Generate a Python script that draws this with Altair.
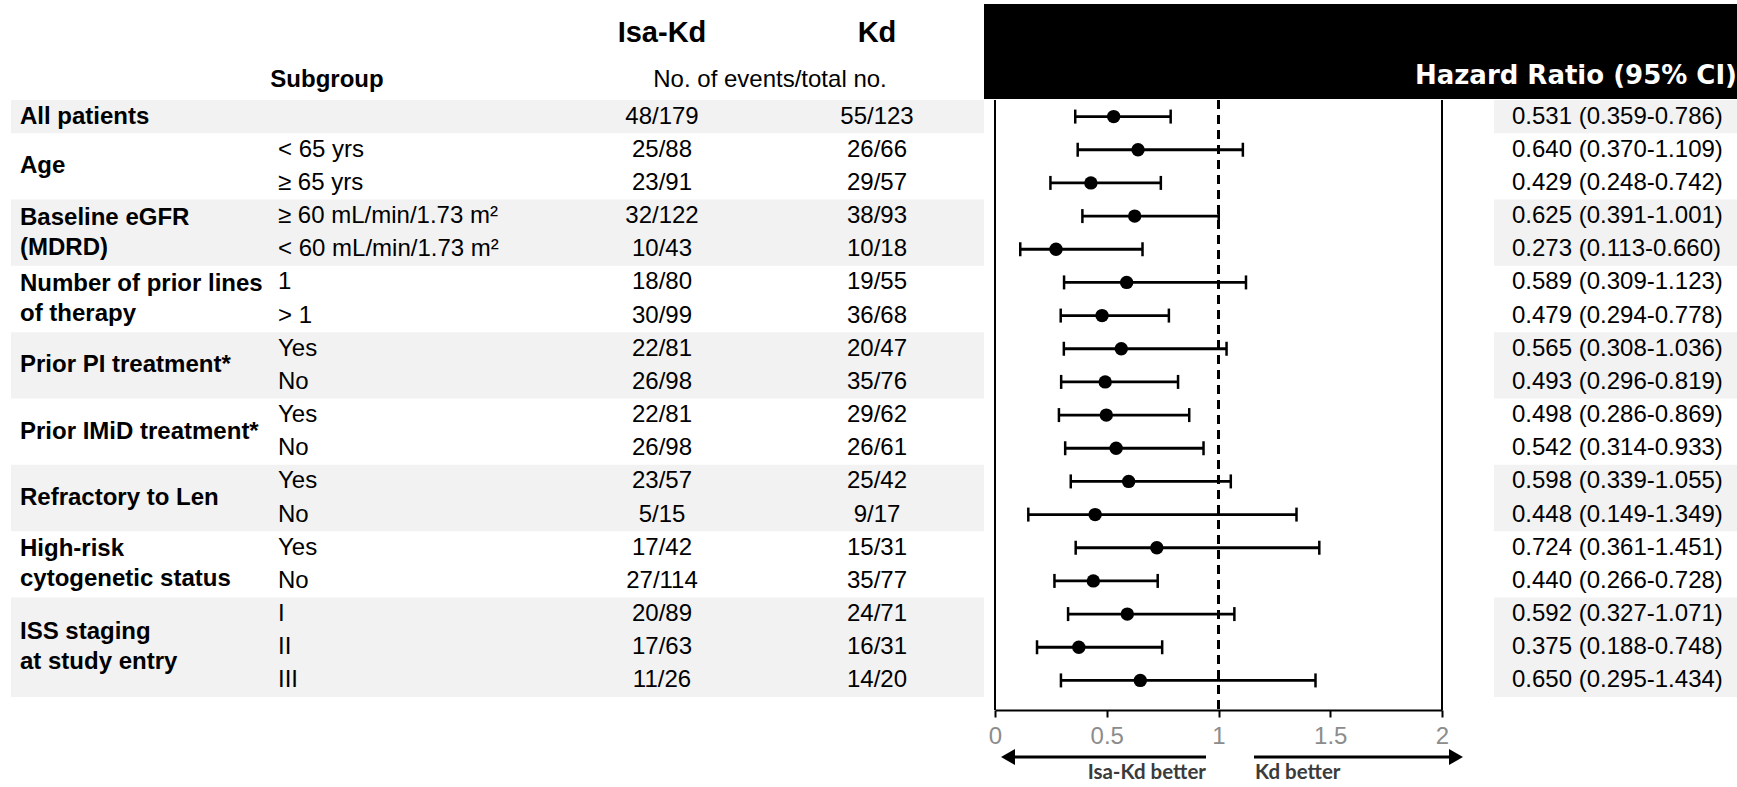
import altair as alt
import pandas as pd

# ---- data -----------------------------------------------------------------
group_labels = [
    "All patients",
    "Age",
    "Baseline eGFR\n(MDRD)",
    "Number of prior lines\nof therapy",
    "Prior PI treatment*",
    "Prior IMiD treatment*",
    "Refractory to Len",
    "High-risk\ncytogenetic status",
    "ISS staging\nat study entry",
]
group_sizes = [1, 2, 2, 2, 2, 2, 2, 2, 3]

subgroups = [
    "", "< 65 yrs", "≥ 65 yrs",
    "≥ 60 mL/min/1.73 m²", "< 60 mL/min/1.73 m²",
    "1", "> 1",
    "Yes", "No",
    "Yes", "No",
    "Yes", "No",
    "Yes", "No",
    "I", "II", "III",
]
isa_kd_events = [
    "48/179", "25/88", "23/91", "32/122", "10/43", "18/80", "30/99", "22/81", "26/98",
    "22/81", "26/98", "23/57", "5/15", "17/42", "27/114", "20/89", "17/63", "11/26",
]
kd_events = [
    "55/123", "26/66", "29/57", "38/93", "10/18", "19/55", "36/68", "20/47", "35/76",
    "29/62", "26/61", "25/42", "9/17", "15/31", "35/77", "24/71", "16/31", "14/20",
]
hazard_ratio = [0.531, 0.640, 0.429, 0.625, 0.273, 0.589, 0.479, 0.565, 0.493,
                0.498, 0.542, 0.598, 0.448, 0.724, 0.440, 0.592, 0.375, 0.650]
ci_low = [0.359, 0.370, 0.248, 0.391, 0.113, 0.309, 0.294, 0.308, 0.296,
          0.286, 0.314, 0.339, 0.149, 0.361, 0.266, 0.327, 0.188, 0.295]
ci_high = [0.786, 1.109, 0.742, 1.001, 0.660, 1.123, 0.778, 1.036, 0.819,
           0.869, 0.933, 1.055, 1.349, 1.451, 0.728, 1.071, 0.748, 1.434]
tick_values = [0, 0.5, 1, 1.5, 2]
frame_edges = [0, 2]

FONT = "Liberation Sans"
BAND = "#f2f2f2"
LINE_STEP = 0.9  # spacing of wrapped group-label lines, in row units

# ---- tables ---------------------------------------------------------------
rows = pd.DataFrame({
    "row": list(range(len(subgroups))),
    "subgroup": subgroups,
    "isa": isa_kd_events,
    "kd": kd_events,
    "hr": hazard_ratio,
    "lo": ci_low,
    "hi": ci_high,
})
rows["hr_text"] = [f"{h:.3f} ({l:.3f}-{u:.3f})" for h, l, u in zip(hazard_ratio, ci_low, ci_high)]

starts = [sum(group_sizes[:i]) for i in range(len(group_sizes))]
groups = pd.DataFrame({
    "label": group_labels,
    "top": [s - 0.5 for s in starts],
    "bottom": [s + n - 0.5 for s, n in zip(starts, group_sizes)],
    "shaded": [i % 2 == 0 for i in range(len(group_labels))],
})
shaded = groups[groups["shaded"]]

# each wrapped label line is centred as a block on its group
label_lines = []
for label, s, n in zip(group_labels, starts, group_sizes):
    parts = label.split("\n")
    center = s + (n - 1) / 2
    for i, part in enumerate(parts):
        label_lines.append({"line": part, "pos": center + (i - (len(parts) - 1) / 2) * LINE_STEP})
label_lines = pd.DataFrame(label_lines)

edges = pd.DataFrame({"edge": frame_edges})
one = pd.DataFrame({"k": [0]})

# ---- scales ---------------------------------------------------------------
yscale = alt.Scale(domain=[-0.5, len(subgroups) - 0.5], range=[100, 697], nice=False, zero=False)
xscale = alt.Scale(domain=[0, 2], range=[995, 1442], nice=False, zero=False)
xaxis = alt.Axis(
    values=tick_values, format="~g", title=None, grid=False,
    domainColor="black", domainWidth=2, tickColor="black", tickWidth=2, tickSize=7,
    labelFontSize=24, labelColor="#8c8c8c", labelFont=FONT, labelPadding=7,
    labelFlush=False, labelOverlap=False,
)
Y = alt.Y("row:Q", scale=yscale, axis=None)

# ---- shaded group bands ---------------------------------------------------
band_left = alt.Chart(shaded).mark_rect(color=BAND).encode(
    x=alt.value(11), x2=alt.value(984),
    y=alt.Y("top:Q", scale=yscale, axis=None), y2="bottom:Q",
)
band_right = alt.Chart(shaded).mark_rect(color=BAND).encode(
    x=alt.value(1494), x2=alt.value(1737),
    y=alt.Y("top:Q", scale=yscale, axis=None), y2="bottom:Q",
)

# ---- header ---------------------------------------------------------------
black_box = alt.Chart(one).mark_rect(color="black").encode(
    x=alt.value(984), x2=alt.value(1737), y=alt.value(4), y2=alt.value(99)
)
hr_title = alt.Chart(one).mark_text(
    text="Hazard Ratio (95% CI)", font="DejaVu Sans", fontSize=26, fontWeight="bold",
    color="white", align="right", baseline="alphabetic",
).encode(x=alt.value(1737), y=alt.value(84))
isa_title = alt.Chart(one).mark_text(
    text="Isa-Kd", font=FONT, fontSize=29, fontWeight="bold", align="center", baseline="middle"
).encode(x=alt.value(662), y=alt.value(33))
kd_title = alt.Chart(one).mark_text(
    text="Kd", font=FONT, fontSize=29, fontWeight="bold", align="center", baseline="middle"
).encode(x=alt.value(877), y=alt.value(33))
subgroup_title = alt.Chart(one).mark_text(
    text="Subgroup", font=FONT, fontSize=24, fontWeight="bold", align="center", baseline="middle"
).encode(x=alt.value(327), y=alt.value(80))
events_title = alt.Chart(one).mark_text(
    text="No. of events/total no.", font=FONT, fontSize=24, align="center", baseline="middle"
).encode(x=alt.value(770), y=alt.value(80))

# ---- table text -----------------------------------------------------------
group_text = alt.Chart(label_lines).mark_text(
    font=FONT, fontSize=24, fontWeight="bold", align="left", baseline="middle",
).encode(x=alt.value(20), y=alt.Y("pos:Q", scale=yscale, axis=None), text="line:N")

sub_text = alt.Chart(rows).mark_text(
    font=FONT, fontSize=24, align="left", baseline="middle"
).encode(x=alt.value(278), y=Y, text="subgroup:N")
isa_text = alt.Chart(rows).mark_text(
    font=FONT, fontSize=24, align="center", baseline="middle"
).encode(x=alt.value(662), y=Y, text="isa:N")
kd_text = alt.Chart(rows).mark_text(
    font=FONT, fontSize=24, align="center", baseline="middle"
).encode(x=alt.value(877), y=Y, text="kd:N")
hr_text = alt.Chart(rows).mark_text(
    font=FONT, fontSize=24, align="left", baseline="middle"
).encode(x=alt.value(1512), y=Y, text="hr_text:N")

# ---- forest panel ---------------------------------------------------------
frame = alt.Chart(edges).mark_rule(color="black", strokeWidth=2).encode(
    x=alt.X("edge:Q", scale=xscale, axis=xaxis), y=alt.value(100), y2=alt.value(710)
)
ref_line = alt.Chart(one).mark_rule(color="black", strokeWidth=3, strokeDash=[9, 6]).encode(
    x=alt.XDatum(1, type="quantitative", scale=xscale, axis=xaxis),
    y=alt.value(100), y2=alt.value(710),
)
ci_rule = alt.Chart(rows).mark_rule(color="black", strokeWidth=2.8).encode(
    x=alt.X("lo:Q", scale=xscale, axis=xaxis), x2="hi:Q", y=Y
)
ci_caps = alt.Chart(rows).transform_fold(["lo", "hi"], as_=["end", "value"]).mark_tick(
    orient="vertical", size=14, thickness=2.5, color="black", opacity=1
).encode(x=alt.X("value:Q", scale=xscale, axis=xaxis), y=Y)
points = alt.Chart(rows).mark_circle(size=180, color="black", opacity=1).encode(
    x=alt.X("hr:Q", scale=xscale, axis=xaxis), y=Y
)

# ---- direction arrows -----------------------------------------------------
ARROW = "#000000"
left_shaft = alt.Chart(one).mark_rule(color=ARROW, strokeWidth=3).encode(
    x=alt.value(1206), x2=alt.value(1006), y=alt.value(757)
)
right_shaft = alt.Chart(one).mark_rule(color=ARROW, strokeWidth=3).encode(
    x=alt.value(1254), x2=alt.value(1458), y=alt.value(757)
)
left_head = alt.Chart(one).mark_point(
    shape="triangle-left", filled=True, size=260, color=ARROW, opacity=1
).encode(x=alt.value(1008), y=alt.value(757))
right_head = alt.Chart(one).mark_point(
    shape="triangle-right", filled=True, size=260, color=ARROW, opacity=1
).encode(x=alt.value(1456), y=alt.value(757))
left_label = alt.Chart(one).mark_text(
    text="Isa-Kd better", font="Lato", fontSize=20.5, fontWeight="bold", color="#3b3b3b",
    align="right", baseline="middle",
).encode(x=alt.value(1206), y=alt.value(773))
right_label = alt.Chart(one).mark_text(
    text="Kd better", font="Lato", fontSize=20.5, fontWeight="bold", color="#3b3b3b",
    align="left", baseline="middle",
).encode(x=alt.value(1255), y=alt.value(773))

chart = alt.layer(
    band_left, band_right,
    frame, ref_line, ci_rule, ci_caps, points,
    black_box, hr_title, isa_title, kd_title, subgroup_title, events_title,
    group_text, sub_text, isa_text, kd_text, hr_text,
    left_shaft, right_shaft, left_head, right_head, left_label, right_label,
).properties(
    width=1737, height=710,
    autosize=alt.AutoSizeParams(type="none"),
    padding={"left": 0, "top": 0, "right": 0, "bottom": 77},
    background="white",
).configure_view(strokeWidth=0)

chart.save("out.html", embed_options={"renderer": "svg", "actions": False})
